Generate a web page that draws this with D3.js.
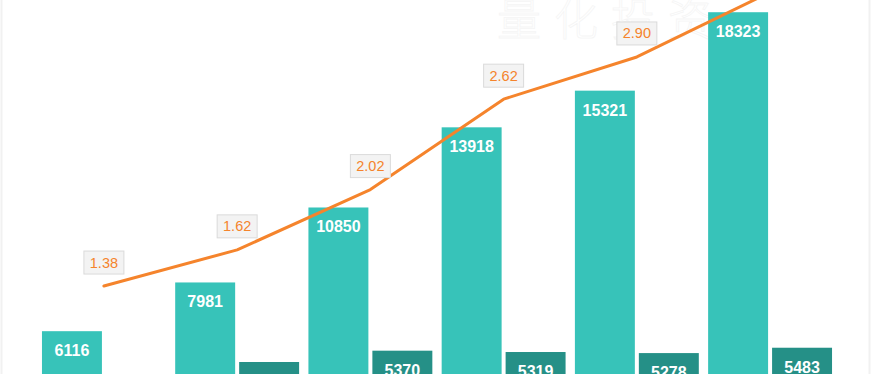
<!DOCTYPE html>
<html>
<head>
<meta charset="utf-8">
<script src="https://cdn.jsdelivr.net/npm/d3@7"></script>
<style>
  html, body { margin: 0; padding: 0; background: #fff; }
  svg { display: block; font-family: "Liberation Sans", Arial, sans-serif; }
</style>
</head>
<body>
<svg id="chart"></svg>
<script>
const width = 872;
const height = 374;

// data
const categories = ['G1', 'G2', 'G3', 'G4', 'G5', 'G6'];
const totalValues = [6116, 7981, 10850, 13918, 15321, 18323];
const otherValues = [null, 4937, 5370, 5319, 5278, 5483];
const ratioValues = [1.38, 1.62, 2.02, 2.62, 2.90, 3.33];

const lightTeal = '#37c3b9';
const darkTeal = '#259087';
const orange = '#f5842c';

const svg = d3.select('#chart')
  .attr('width', width)
  .attr('height', height);

// faint page edges
svg.append('line').attr('x1', 1.5).attr('x2', 1.5).attr('y1', 0).attr('y2', height)
  .attr('stroke', '#f1f1f1').attr('stroke-width', 2);
svg.append('line').attr('x1', 869.5).attr('x2', 869.5).attr('y1', 0).attr('y2', height)
  .attr('stroke', '#f1f1f1').attr('stroke-width', 2);

// watermark
svg.append('text')
  .attr('x', 497).attr('y', 36)
  .attr('font-size', 44)
  .attr('font-family', '"Noto Sans CJK SC", sans-serif')
  .attr('font-weight', 200)
  .attr('fill', 'none')
  .attr('stroke', '#f5f5f5')
  .attr('stroke-width', 0.8)
  .attr('letter-spacing', 13)
  .text('量化投资');

// scales
const x = d3.scaleBand()
  .domain(categories)
  .range([37.3, 836.7])
  .paddingInner(0.07)
  .paddingOuter(0.035);

const xSub = d3.scaleBand()
  .domain(['total', 'other'])
  .range([0, x.bandwidth()])
  .paddingInner(0.0625);

const y = d3.scaleLinear()
  .domain([0, 20000])
  .range([491, 491 - 20000 * 0.02613]);

const yLine = d3.scaleLinear()
  .domain([0, 3.5])
  .range([494, 494 - 3.5 * 150.7]);

const rows = categories.map((c, i) => ({
  cat: c, total: totalValues[i], other: otherValues[i], ratio: ratioValues[i]
}));

const groups = svg.selectAll('g.group')
  .data(rows)
  .enter()
  .append('g')
  .attr('class', 'group')
  .attr('transform', d => `translate(${x(d.cat)},0)`);

// light bars
groups.append('rect')
  .attr('x', xSub('total'))
  .attr('y', d => y(d.total))
  .attr('width', xSub.bandwidth())
  .attr('height', d => y(0) - y(d.total))
  .attr('fill', lightTeal);

groups.append('text')
  .attr('x', xSub('total') + xSub.bandwidth() / 2)
  .attr('y', d => y(d.total) + 25)
  .attr('text-anchor', 'middle')
  .attr('font-size', 16)
  .attr('font-weight', 'bold')
  .attr('fill', '#fff')
  .text(d => d.total);

// dark bars
const darkGroups = groups.filter(d => d.other != null);

darkGroups.append('rect')
  .attr('x', xSub('other'))
  .attr('y', d => y(d.other))
  .attr('width', xSub.bandwidth())
  .attr('height', d => y(0) - y(d.other))
  .attr('fill', darkTeal);

darkGroups.append('text')
  .attr('x', xSub('other') + xSub.bandwidth() / 2)
  .attr('y', d => y(d.other) + 25)
  .attr('text-anchor', 'middle')
  .attr('font-size', 16)
  .attr('font-weight', 'bold')
  .attr('fill', '#fff')
  .text(d => d.other);

// ratio line
const line = d3.line()
  .x(d => x(d.cat) + x.bandwidth() / 2)
  .y(d => yLine(d.ratio));

svg.append('path')
  .datum(rows)
  .attr('d', line)
  .attr('fill', 'none')
  .attr('stroke', orange)
  .attr('stroke-width', 3)
  .attr('stroke-linejoin', 'round')
  .attr('stroke-linecap', 'round');

const labels = svg.selectAll('g.ratio-label')
  .data(rows)
  .enter()
  .append('g')
  .attr('class', 'ratio-label')
  .attr('transform', d => `translate(${x(d.cat) + x.bandwidth() / 2},${yLine(d.ratio) - 23.5})`);

labels.append('rect')
  .attr('x', -20).attr('y', -11.5)
  .attr('width', 40).attr('height', 23)
  .attr('fill', '#f3f3f3')
  .attr('stroke', '#dadada')
  .attr('stroke-width', 1);

labels.append('text')
  .attr('y', 5)
  .attr('text-anchor', 'middle')
  .attr('font-size', 14.5)
  .attr('fill', orange)
  .text(d => d.ratio.toFixed(2));
</script>
</body>
</html>
